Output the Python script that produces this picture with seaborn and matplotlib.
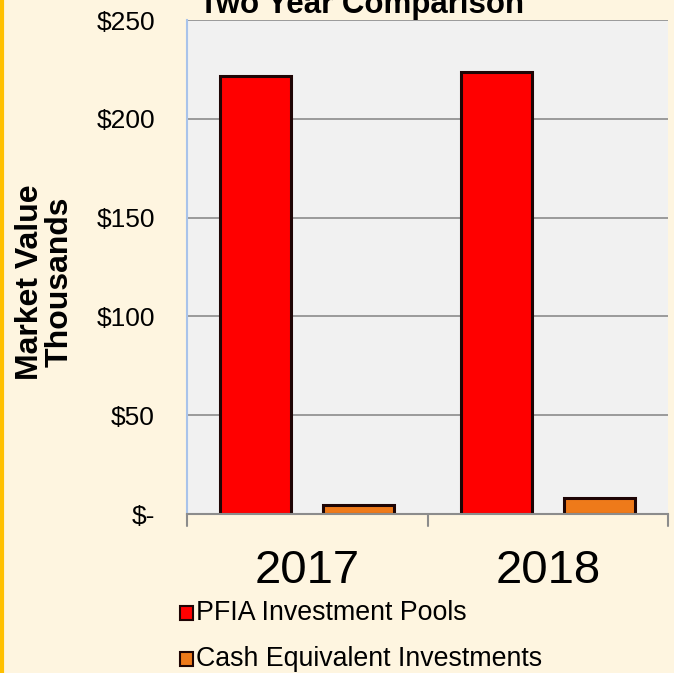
import pandas as pd
import matplotlib
matplotlib.use("Agg")
import matplotlib.pyplot as plt
import seaborn as sns

# chart data (market value, $ thousands)
years = ["2017", "2018"]
series = ["PFIA Investment Pools", "Cash Equivalent Investments"]
pfia_values = [221.7, 223.7]
cash_values = [4.6, 8.1]
yticks = [0, 50, 100, 150, 200, 250]
ytick_labels = ["$-", "$50", "$100", "$150", "$200", "$250"]

df = pd.DataFrame({
    "Year": years * 2,
    "Series": [series[0]] * 2 + [series[1]] * 2,
    "Value": pfia_values + cash_values,
})

sns.set_style("white")
plt.rcParams["font.family"] = ["Liberation Sans", "DejaVu Sans"]
plt.rcParams["text.color"] = "black"
plt.rcParams["axes.labelcolor"] = "black"
plt.rcParams["xtick.labelcolor"] = "black"
plt.rcParams["ytick.labelcolor"] = "black"

bg = "#FEF5E0"
fig = plt.figure(figsize=(6.74, 6.73), dpi=100, facecolor=bg)
ax = fig.add_axes([187 / 674, 1 - 514 / 673, 481 / 674, 494 / 673])
ax.set_facecolor("#F1F1F1")

palette = {series[0]: "#FF0000", series[1]: "#EE7A1A"}
sns.barplot(data=df, x="Year", y="Value", hue="Series", palette=palette,
            width=0.855, gap=0.31, edgecolor="#1e0505", linewidth=2.2,
            saturation=1, legend=False, ax=ax)

ax.set_xlim(-0.5, 1.5)
ax.set_ylim(0, 250)
ax.set_yticks(yticks)
ax.set_yticklabels(ytick_labels, fontsize=19)
ax.grid(axis="y", color="#8C8C8C", linewidth=1.2)
ax.set_axisbelow(True)
ax.set_xticks([0, 1])
ax.set_xticklabels(years, fontsize=34)
ax.set_xlabel("")
ax.set_ylabel("Market Value\nThousands", fontsize=23, fontweight="bold",
              linespacing=1.0)
ax.yaxis.set_label_coords(-0.233, 0.47)

# category boundary ticks on the x axis
ax.tick_params(axis="x", length=0, pad=25)
for xb in [-0.5, 0.5, 1.5]:
    ax.plot([xb, xb], [0, -0.024], transform=ax.get_xaxis_transform(),
            color="#8C8C8C", lw=1.5, clip_on=False)
ax.tick_params(axis="y", length=6, color="#A9C3EA", width=1.5, pad=17)

for side in ["top", "right"]:
    ax.spines[side].set_visible(False)
ax.spines["left"].set_color("#A9C3EA")
ax.spines["left"].set_linewidth(1.5)
ax.spines["bottom"].set_color("#8C8C8C")
ax.spines["bottom"].set_linewidth(1.5)

# title partly cut off at the top, as in the original
fig.text(362 / 674, 1 - 13 / 673, "Two Year Comparison", fontsize=22.5,
         fontweight="bold", ha="center", va="baseline")

# legend under the chart
for i, (name, col) in enumerate(palette.items()):
    y = 1 - (613 + 46 * i) / 673
    fig.patches.append(plt.Rectangle((180 / 674, y - 7 / 673), 13 / 674, 14 / 673,
                                     transform=fig.transFigure, facecolor=col,
                                     edgecolor="#1e0505", linewidth=1.5))
    fig.text(196 / 674, y, name, fontsize=19.3, va="center", ha="left")

# yellow left border
fig.add_artist(plt.Line2D([2 / 674, 2 / 674], [0, 1], transform=fig.transFigure,
                          color="#FFC000", lw=3))

fig.savefig("out.png", dpi=100, facecolor=bg)
